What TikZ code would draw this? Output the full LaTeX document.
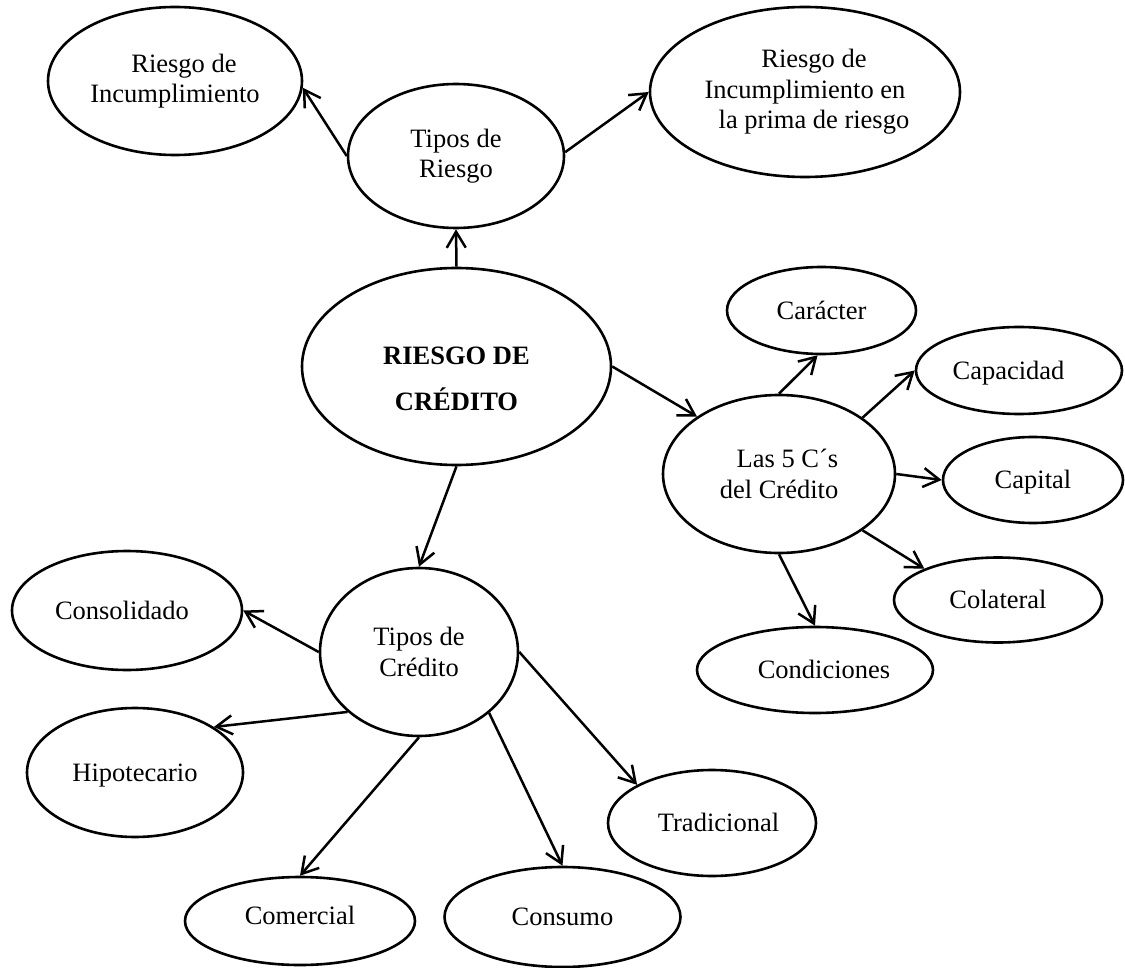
\documentclass[tikz,border=0pt]{standalone}
\usepackage{fontspec}
\setmainfont{Liberation Serif}
\usetikzlibrary{shapes.geometric,arrows.meta}
\begin{document}
\begin{tikzpicture}[x=1pt,y=-1pt,
  bubble/.style={ellipse,draw,line width=2.6pt,inner sep=0pt,align=center,
    font=\fontsize{26.5}{30.5}\selectfont},
  oneline/.style={text height=17.5pt,text depth=0pt},
  link/.style={line width=2.5pt,-{Straight Barb[length=16pt,width=19pt]}},
]
\useasboundingbox (0,0) rectangle (1125,968);

% central concept
\node[bubble,minimum width=309pt,minimum height=197pt,
  font=\fontsize{26.5}{45.7}\selectfont\bfseries] (rc) at (456.5,366.5)
  {\rule{0pt}{42pt}RIESGO DE\\CRÉDITO};

% kinds of risk
\node[bubble,minimum width=216pt,minimum height=144pt] (tr) at (456,156) {Tipos de\\Riesgo};
\node[bubble,minimum width=254pt,minimum height=148pt] (ri) at (175,81)
  {\hspace*{18pt}Riesgo de\\Incumplimiento};
\node[bubble,minimum width=310pt,minimum height=170pt] (pr) at (805,92)
  {\hspace*{18pt}Riesgo de\\Incumplimiento en\\\hspace*{18pt}la prima de riesgo};

% the five C's
\node[bubble,minimum width=232pt,minimum height=158pt,align=right] (c5) at (779,474)
  {Las 5 C´s\\del Crédito};
\node[bubble,oneline,minimum width=189pt,minimum height=87pt] (car) at (821.5,310.5) {Carácter};
\node[bubble,oneline,minimum width=206pt,minimum height=87pt] (cap) at (1019,370.5) {Capacidad\hspace*{21pt}};
\node[bubble,oneline,minimum width=180pt,minimum height=86pt] (capi) at (1033,480) {Capital};
\node[bubble,oneline,minimum width=208pt,minimum height=85pt] (col) at (998,600) {Colateral};
\node[bubble,oneline,minimum width=236pt,minimum height=86pt] (cond) at (815,670) {\hspace*{18pt}Condiciones};

% kinds of credit
\node[bubble,minimum width=198pt,minimum height=168pt] (tc) at (419,652) {Tipos de\\Crédito};
\node[bubble,oneline,minimum width=230pt,minimum height=119pt] (cons) at (127,610.5) {Consolidado\hspace*{10pt}};
\node[bubble,oneline,minimum width=216pt,minimum height=129pt] (hip) at (135,772.5) {Hipotecario};
\node[bubble,oneline,minimum width=208pt,minimum height=106pt] (trad) at (712,823) {\hspace*{13pt}Tradicional};
\node[bubble,oneline,text depth=10pt,minimum width=230pt,minimum height=88pt] (com) at (300,921) {Comercial};
\node[bubble,oneline,minimum width=236pt,minimum height=100pt] (cnsm) at (562.5,917) {Consumo};

% connectors
\draw[link] (rc.north) -- (tr.south);
\draw[link] (tr.west) -- (ri.-3);
\draw[link] (tr.2) -- (pr.west);

\draw[link] (rc.east) -- (c5.145);
\draw[link] (c5.north) -- (car.265);
\draw[link] (c5.34) -- (cap.west);
\draw[link] (c5.east) -- (capi.west);
\draw[link] (c5.-34) -- (col.157);
\draw[link] (c5.south) -- (cond.north);

\draw[link] (rc.south) -- (tc.north);
\draw[link] (tc.west) -- (cons.east);
\draw[link] (tc.220) -- (hip.30);
\draw[link] (tc.south) -- (com.north);
\draw[link] (tc.-41) -- (cnsm.north);
\draw[link] (tc.east) -- (trad.153);
\end{tikzpicture}
\end{document}
